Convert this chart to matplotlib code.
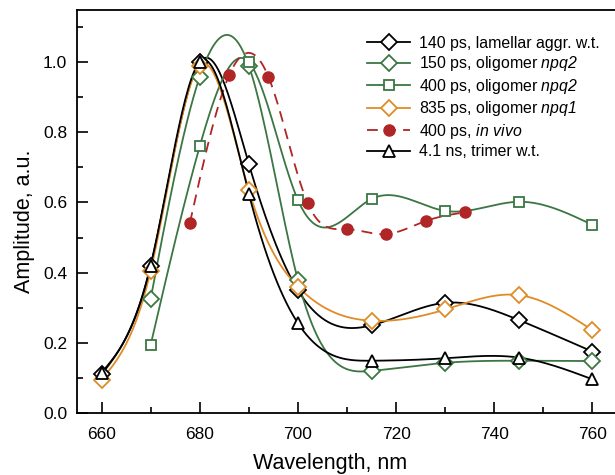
import numpy as np
from matplotlib import pyplot as plt
from matplotlib.lines import Line2D
from matplotlib.ticker import MultipleLocator

plt.rcParams['font.family'] = ['Liberation Sans', 'DejaVu Sans']
plt.rcParams['mathtext.fontset'] = 'custom'
plt.rcParams['mathtext.rm'] = 'Liberation Sans'
# курсив через sf, чтобы цифры тоже были наклонными
plt.rcParams['mathtext.sf'] = 'Liberation Sans:italic'

# данные
wl = [660, 670, 680, 690, 700, 715, 730, 745, 760]
lam_140 = [0.11, 0.42, 1.0, 0.71, 0.35, 0.25, 0.314, 0.265, 0.175]
trim_41 = [0.115, 0.42, 1.0, 0.625, 0.256, 0.149, 0.156, 0.158, 0.096]
npq1_835 = [0.095, 0.405, 0.99, 0.635, 0.36, 0.263, 0.295, 0.336, 0.236]

wl_olig = [670, 680, 690, 700, 715, 730, 745, 760]
npq2_150 = [0.325, 0.958, 0.99, 0.379, 0.12, 0.143, 0.149, 0.148]
npq2_400 = [0.194, 0.76, 1.0, 0.607, 0.61, 0.576, 0.602, 0.536]

wl_vivo = [678, 686, 694, 702, 710, 718, 726, 734]
vivo_400 = [0.542, 0.963, 0.958, 0.598, 0.524, 0.51, 0.547, 0.572]

GREEN = '#3b7643'
ORANGE = '#e08c26'
RED = '#b02525'


def spline(x, y, n=300):
    # натуральный кубический сплайн, только для гладкой линии
    x = np.asarray(x, float)
    y = np.asarray(y, float)
    k = len(x)
    h = np.diff(x)
    A = np.zeros((k, k))
    r = np.zeros(k)
    A[0, 0] = A[-1, -1] = 1
    for i in range(1, k - 1):
        A[i, i - 1] = h[i - 1]
        A[i, i] = 2 * (h[i - 1] + h[i])
        A[i, i + 1] = h[i]
        r[i] = 3 * ((y[i + 1] - y[i]) / h[i] - (y[i] - y[i - 1]) / h[i - 1])
    c = np.linalg.solve(A, r)
    b = (y[1:] - y[:-1]) / h - h * (2 * c[:-1] + c[1:]) / 3
    d = (c[1:] - c[:-1]) / (3 * h)
    xs = np.linspace(x[0], x[-1], n)
    idx = np.clip(np.searchsorted(x, xs) - 1, 0, k - 2)
    dx = xs - x[idx]
    ys = y[idx] + b[idx] * dx + c[idx] * dx ** 2 + d[idx] * dx ** 3
    return xs, ys


series = [
    (wl, lam_140, 'black', 'D', '-', 8, '140 ps, lamellar aggr. w.t.'),
    (wl_olig, npq2_150, GREEN, 'D', '-', 8, '150 ps, oligomer $\\mathsf{npq2}$'),
    (wl_olig, npq2_400, GREEN, 's', '-', 7.5, '400 ps, oligomer $\\mathsf{npq2}$'),
    (wl, npq1_835, ORANGE, 'D', '-', 8, '835 ps, oligomer $\\mathsf{npq1}$'),
    (wl_vivo, vivo_400, RED, 'o', (0, (6, 4)), 8, '400 ps, $\\mathsf{in\\ vivo}$'),
    (wl, trim_41, 'black', '^', '-', 9, '4.1 ns, trimer w.t.'),
]

fig = plt.figure(figsize=(6.15, 4.75), dpi=100)
ax = fig.add_axes([77 / 615, 62 / 475, 540 / 615, 403.5 / 475])

handles = []
for i, (x, y, col, m, ls, ms, lab) in enumerate(series):
    xs, ys = spline(x, y)
    ax.plot(xs, ys, color=col, lw=1.3, ls=ls, zorder=2 + i)
    if m == 'o':
        ax.plot(x, y, ls='none', marker=m, ms=ms, color=col, zorder=10 + i)
        h = Line2D([], [], color=col, lw=1.3, ls=ls, marker=m, ms=ms)
    else:
        ax.plot(x, y, ls='none', marker=m, ms=ms, mfc='white', mec=col,
                mew=1.3, zorder=10 + i)
        h = Line2D([], [], color=col, lw=1.3, ls=ls, marker=m, ms=ms,
                   mfc='white', mec=col, mew=1.3)
    handles.append(h)

ax.set_xlim(655, 765)
ax.set_ylim(0, 1.15)
ax.xaxis.set_major_locator(MultipleLocator(20))
ax.xaxis.set_minor_locator(MultipleLocator(10))
ax.yaxis.set_major_locator(MultipleLocator(0.2))
ax.yaxis.set_minor_locator(MultipleLocator(0.1))
ax.yaxis.set_major_formatter(lambda v, p: f'{v:.1f}')
ax.tick_params(which='both', direction='in', labelsize=12.5, width=1.2,
               top=False, right=False)
ax.tick_params(axis='x', pad=10)
ax.tick_params(axis='y', pad=7)
ax.tick_params(which='major', length=8)
ax.tick_params(which='minor', length=4.5)
ax.spines['right'].set_visible(False)
for s in ['left', 'bottom', 'top']:
    ax.spines[s].set_linewidth(1.3)

ax.set_xlabel('Wavelength, nm', fontsize=15.5)
ax.set_ylabel('Amplitude, a.u.', fontsize=15.5)
ax.xaxis.set_label_coords(0.469, -0.1)
ax.yaxis.set_label_coords(-0.078, 0.475)

ax.legend(handles, [s[6] for s in series], loc='upper right',
          bbox_to_anchor=(0.995, 0.97), frameon=False, fontsize=11.4,
          handlelength=2.7, handletextpad=0.6, labelspacing=0.22)

fig.savefig('out.png')
